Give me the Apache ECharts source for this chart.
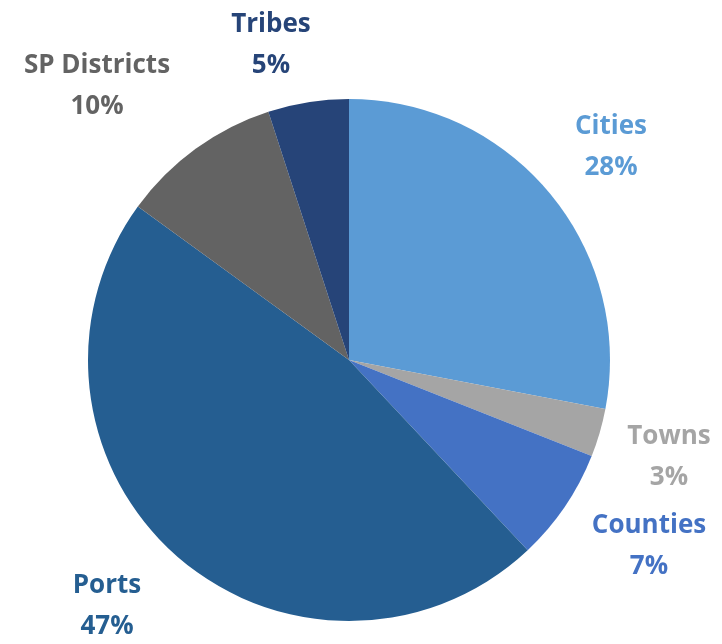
<!DOCTYPE html>
<html>
<head>
<meta charset="utf-8">
<script src="https://cdn.jsdelivr.net/npm/echarts@6/dist/echarts.min.js"></script>
<style>
  html, body { margin: 0; padding: 0; background: #fff; }
  #chart { width: 722px; height: 644px; }
</style>
</head>
<body>
<div id="chart"></div>
<script>
// slice order is clockwise from 12 o'clock
const categories = ["Cities", "Towns", "Counties", "Ports", "SP Districts", "Tribes"];
const shares = [28, 3, 7, 47, 10, 5];
const colors = ["#5B9BD5", "#A5A5A5", "#4472C4", "#255E91", "#636363", "#264478"];

// where the labels sit (label centre, px)
const labelPos = [[611, 147], [669, 457], [649, 546], [107, 606], [97, 86], [271, 45]];

const chart = echarts.init(document.getElementById("chart"));

chart.setOption({
    animation: false,
    series: [{
        type: "pie",
        center: [349, 360],
        radius: [0, 261],
        startAngle: 90,
        clockwise: true,
        data: categories.map((name, i) => ({
            name,
            value: shares[i],
            itemStyle: { color: colors[i] },
            label: { color: colors[i] }
        })),
        itemStyle: { borderWidth: 0 },
        label: {
            show: true,
            position: "outside",
            formatter: "{b}\n{c}%",
            fontFamily: "Open Sans",
            fontWeight: "bold",
            fontSize: 26,
            lineHeight: 41,
            align: "center",
            overflow: "none"
        },
        labelLine: { show: false },
        labelLayout: params => ({
            x: labelPos[params.dataIndex][0],
            y: labelPos[params.dataIndex][1],
            align: "center",
            verticalAlign: "middle",
            width: 240
        })
    }]
});
</script>
</body>
</html>
